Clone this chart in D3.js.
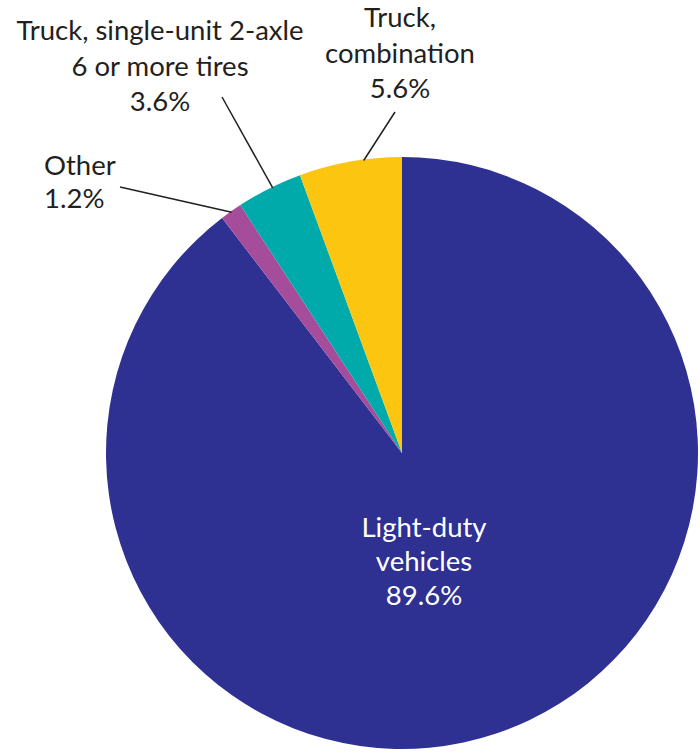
<!DOCTYPE html>
<html><head><meta charset="utf-8">
<script src="https://cdn.jsdelivr.net/npm/d3@7"></script>
<style>body{margin:0;background:#fff}text{font-family:Lato,"Open Sans",sans-serif}</style>
</head><body><svg id="c" width="700" height="752"></svg>
<script>
const categories = ["Light-duty vehicles", "Other", "Truck, single-unit 2-axle 6 or more tires", "Truck, combination"];
const values = [89.6, 1.2, 3.6, 5.6];
const colors = ["#2E3192", "#A54C9A", "#00AAAA", "#FCC50F"];
const labelLines = [["Light-duty", "vehicles", "89.6%"], ["Other", "1.2%"], ["Truck, single-unit 2-axle", "6 or more tires", "3.6%"], ["Truck,", "combination", "5.6%"]];

const W = 700, H = 752, cx = 402, cy = 453, R = 296;
const svg = d3.select("#c");
const g = svg.append("g").attr("transform", `translate(${cx},${cy})`);
const data = categories.map((c, i) => ({c, v: values[i], i}));
const pie = d3.pie().value(d => d.v).sort(null);
const arcs = pie(data);
const arc = d3.arc().innerRadius(0).outerRadius(R);
g.selectAll("path").data(arcs).join("path").attr("d", arc).attr("fill", d => colors[d.data.i]);

const layout = [
  {x: 424, y: 537, lh: 34, fill: "#ffffff", anchor: "middle"},
  {x: 44, y: 175, lh: 33, fill: "#231F20", anchor: "start", lx: 120, ly: 187, f: 0.5},
  {x: 160, y: 40, lh: 35.5, fill: "#231F20", anchor: "middle", lx: 222, ly: 97, f: 0.55},
  {x: 400, y: 27, lh: 35.5, fill: "#231F20", anchor: "middle", lx: 395, ly: 112, f: 0.63}
];
arcs.forEach((a, i) => {
  const L = layout[i];
  if (L.lx !== undefined) {
    const ang = a.startAngle + (a.endAngle - a.startAngle) * L.f;
    const px = cx + (R - 1) * Math.sin(ang), py = cy - (R - 1) * Math.cos(ang);
    svg.append("line").attr("x1", L.lx).attr("y1", L.ly).attr("x2", px).attr("y2", py)
      .attr("stroke", "#231F20").attr("stroke-width", 1.5);
  }
  const t = svg.append("text").attr("text-anchor", L.anchor).attr("fill", L.fill).attr("font-size", 27.5);
  labelLines[i].forEach((s, k) => t.append("tspan").attr("x", L.x).attr("y", L.y + k * L.lh).text(s));
});
</script></body></html>
